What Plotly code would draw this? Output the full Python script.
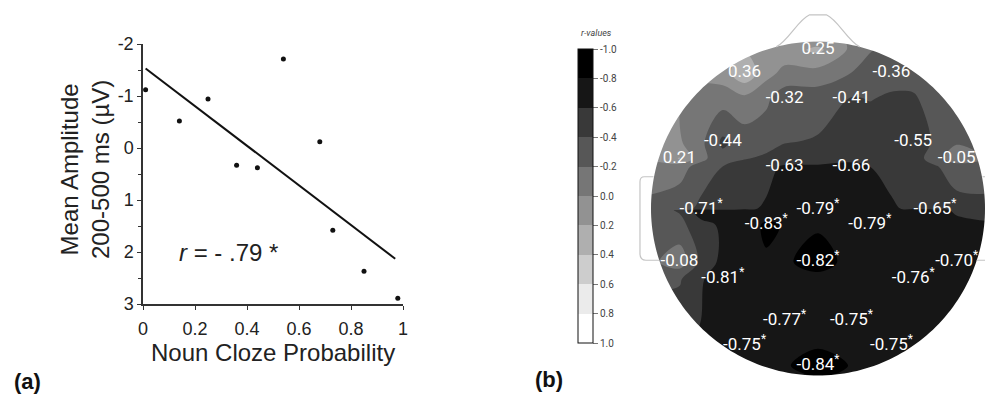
import numpy as np
import plotly.graph_objects as go

# ---------------- Panel (a): scatter + regression ----------------
cloze = [0.01, 0.14, 0.25, 0.36, 0.44, 0.54, 0.68, 0.73, 0.85, 0.98]
amplitude = [-1.12, -0.52, -0.94, 0.33, 0.38, -1.71, -0.12, 1.58, 2.37, 2.89]
fit_x = [0.01, 0.97]
fit_y = [-1.53, 2.13]
x_ticks = [0, 0.2, 0.4, 0.6, 0.8, 1]
x_ticklabels = ["0", "0.2", "0.4", "0.6", "0.8", "1"]
y_ticks = [-2, -1, 0, 1, 2, 3]
y_ticklabels = ["-2", "-1", "0", "1", "2", "3"]

# ---------------- Panel (b): scalp map of r-values ----------------
# electrode positions in head units (head radius = 1, nose up)
elec_x = [0.0, -0.44, 0.44, -0.20, 0.20, -0.57, 0.57, -0.83, 0.83, -0.20, 0.20,
          -0.70, 0.0, 0.70, -0.31, 0.31, -0.83, 0.0, 0.83, -0.57, 0.57,
          -0.20, 0.20, -0.44, 0.44, 0.0]
elec_y = [0.95, 0.81, 0.81, 0.66, 0.66, 0.40, 0.40, 0.30, 0.30, 0.25, 0.25,
          -0.01, -0.01, -0.01, -0.10, -0.10, -0.32, -0.32, -0.32, -0.42, -0.42,
          -0.67, -0.67, -0.82, -0.82, -0.94]
r_vals = [0.25, 0.36, -0.36, -0.32, -0.41, -0.44, -0.55, 0.21, -0.05, -0.63, -0.66,
          -0.71, -0.79, -0.65, -0.83, -0.79, -0.08, -0.82, -0.70, -0.81, -0.76,
          -0.77, -0.75, -0.75, -0.75, -0.84]
sig = [False, False, False, False, False, False, False, False, False, False, False,
       True, True, True, True, True, False, True, True, True, True,
       True, True, True, True, True]
# head rim: grid positions with no value (left for the library to fill in)
rim_x = [-1.0, 1.0, 0.0, 0.0]
rim_y = [0.0, 0.0, 1.0, -1.0]

cbar_ticks = [-1.0, -0.8, -0.6, -0.4, -0.2, 0.0, 0.2, 0.4, 0.6, 0.8, 1.0]
cbar_ticklabels = ["-1.0", "-0.8", "-0.6", "-0.4", "-0.2", "0.0", "0.2", "0.4", "0.6", "0.8", "1.0"]
# band colours from r=-1 (black) to r=+1 (white)
band_colors = ["#000000", "#222222", "#414141", "#5b5b5b", "#777777",
               "#919191", "#ababab", "#c6c6c6", "#e0e0e0", "#ffffff"]

W, H = 985, 395
FONT_A = "Liberation Sans, Arial, sans-serif"
FONT_B = "Roboto, Open Sans, sans-serif"

fig = go.Figure()

# ---- panel (a)
fig.add_trace(go.Scatter(x=fit_x, y=fit_y, mode="lines",
                         line=dict(color="#111111", width=2),
                         xaxis="x", yaxis="y", hoverinfo="skip", showlegend=False))
fig.add_trace(go.Scatter(x=cloze, y=amplitude, mode="markers",
                         marker=dict(color="#111111", size=5),
                         xaxis="x", yaxis="y", showlegend=False))

# ---- panel (b)
nb = len(band_colors)
ncont = nb + 1
cscale = []
for k in range(nb):
    c = band_colors[nb - 1 - k]
    cscale.append([(k + 1) / ncont, c])
cscale = [[0.0, cscale[0][1]]] + cscale + [[1.0, cscale[-1][1]]]

zprime = [-v for v in r_vals] + [None] * len(rim_x)
fig.add_trace(go.Contour(
    x=elec_x + rim_x, y=elec_y + rim_y, z=zprime,
    xaxis="x2", yaxis="y2",
    zmin=-1, zmax=1,
    autocontour=False, connectgaps=True,
    contours=dict(start=-1, end=1, size=0.2, coloring="fill", showlines=False),
    line=dict(width=0, smoothing=1.0),
    colorscale=cscale,
    hoverinfo="skip",
    colorbar=dict(
        x=578 / W, xanchor="left", xpad=0,
        y=1 - 49 / H, yanchor="top", ypad=0,
        len=294, lenmode="pixels",
        thickness=15, thicknessmode="pixels",
        outlinewidth=1, outlinecolor="#111111",
        ticks="outside", ticklen=5, tickwidth=1, tickcolor="#777777",
        tickvals=[-t for t in cbar_ticks], ticktext=cbar_ticklabels,
        tickfont=dict(size=10, color="#444444", family=FONT_B),
        title=dict(text=""),
    ),
))

labels = []
for v, s in zip(r_vals, sig):
    t = f"{v:.2f}"
    if s:
        t += "<sup>*</sup>"
    labels.append(t)
fig.add_trace(go.Scatter(x=elec_x, y=elec_y, mode="text", text=labels,
                         textposition="middle center",
                         textfont=dict(color="white", size=17, family=FONT_B),
                         xaxis="x2", yaxis="y2", hoverinfo="skip", showlegend=False))

# ---- head geometry (decoration)
theta = np.linspace(0, 2 * np.pi, 241)
circ = " ".join(("M" if i == 0 else "L") + f" {np.cos(t):.4f} {np.sin(t):.4f}" for i, t in enumerate(theta)) + " Z"
mask = "M -1.4 -1.4 L 1.3 -1.4 L 1.3 1.4 L -1.4 1.4 Z " + circ
nose = "M -0.25 0.968 C -0.18 1.0, -0.12 1.13, -0.05 1.16 L 0.05 1.16 C 0.12 1.13, 0.18 1.0, 0.25 0.968"
ear_l = "M -0.985 0.19 L -1.04 0.19 Q -1.066 0.19 -1.066 0.16 L -1.066 -0.27 Q -1.066 -0.31 -1.03 -0.31 L -0.95 -0.31"
ear_r = "M 0.985 0.19 L 1.04 0.19 Q 1.066 0.19 1.066 0.16 L 1.066 -0.27 Q 1.066 -0.31 1.03 -0.31 L 0.95 -0.31"
NOFILL = "rgba(0,0,0,0)"
OUTL = dict(color="#c4c4c4", width=1.2)

shapes = [
    dict(type="path", path=circ, xref="x2", yref="y2", fillcolor="#5a5a5a", line=dict(width=0), layer="below"),
    dict(type="path", path=mask, xref="x2", yref="y2", fillcolor="white", fillrule="evenodd",
         line=dict(width=0), layer="above"),
    dict(type="path", path=nose, xref="x2", yref="y2", fillcolor=NOFILL, line=OUTL, layer="above"),
    dict(type="path", path=ear_l, xref="x2", yref="y2", fillcolor=NOFILL, line=OUTL, layer="above"),
    dict(type="path", path=ear_r, xref="x2", yref="y2", fillcolor=NOFILL, line=OUTL, layer="above"),
]

# axes geometry in pixels
ax_l, ax_r, ax_t, ax_b = 143, 403, 44, 304
cx, cy, R = 818, 208.5, 167.0
x2_dom_l = 630

annotations = [
    dict(text="Mean Amplitude<br>200-500 ms (µV)", textangle=-90, x=85 / W, y=1 - 170 / H,
         xref="paper", yref="paper", showarrow=False, xanchor="center", yanchor="middle",
         font=dict(size=24, color="#222222", family=FONT_A)),
    dict(text="Noun Cloze Probability", x=(ax_l + ax_r) / 2 / W, y=1 - 352 / H,
         xref="paper", yref="paper", showarrow=False, xanchor="center", yanchor="middle",
         font=dict(size=24, color="#222222", family=FONT_A)),
    dict(text="<i>r</i> = - .79 *", x=0.33, y=2.0, xref="x", yref="y", showarrow=False,
         xanchor="center", yanchor="middle", font=dict(size=24, color="#222222", family=FONT_A)),
    dict(text="<b>(a)</b>", x=27.5 / W, y=1 - 381 / H, xref="paper", yref="paper", showarrow=False,
         xanchor="center", yanchor="middle", font=dict(size=22, color="#111111", family=FONT_A)),
    dict(text="<b>(b)</b>", x=549 / W, y=1 - 379 / H, xref="paper", yref="paper", showarrow=False,
         xanchor="center", yanchor="middle", font=dict(size=22, color="#111111", family=FONT_A)),
    dict(text="<i>r-values</i>", x=596 / W, y=1 - 33 / H, xref="paper", yref="paper", showarrow=False,
         xanchor="center", yanchor="middle", font=dict(size=9, color="#444444", family=FONT_B)),
]

fig.update_layout(
    width=W, height=H,
    margin=dict(l=0, r=0, t=0, b=0, autoexpand=False),
    paper_bgcolor="white", plot_bgcolor="white",
    showlegend=False,
    xaxis=dict(domain=[ax_l / W, ax_r / W], range=[0, 1], anchor="y",
               showline=True, linecolor="#333333", linewidth=1.5,
               showgrid=False, zeroline=False,
               ticks="outside", ticklen=4, tickcolor="#333333", tickwidth=1.2,
               tickvals=x_ticks, ticktext=x_ticklabels, ticklabelstandoff=4,
               tickfont=dict(size=18, color="#222222", family=FONT_A)),
    yaxis=dict(domain=[1 - ax_b / H, 1 - ax_t / H], range=[3, -2], anchor="x",
               showline=True, linecolor="#333333", linewidth=1.5,
               showgrid=False, zeroline=False,
               ticks="outside", ticklen=4, tickcolor="#333333", tickwidth=1.2,
               tickvals=y_ticks, ticktext=y_ticklabels,
               minor=dict(dtick=0.5, ticks="outside", ticklen=3, tickcolor="#333333", showgrid=False),
               tickfont=dict(size=18, color="#222222", family=FONT_A)),
    xaxis2=dict(domain=[x2_dom_l / W, 1], range=[(x2_dom_l - cx) / R, (W - cx) / R], anchor="y2",
                visible=False, showgrid=False, zeroline=False),
    yaxis2=dict(domain=[0, 1], range=[(cy - H) / R, cy / R], anchor="x2",
                visible=False, showgrid=False, zeroline=False),
    shapes=shapes,
    annotations=annotations,
)

fig.write_html("out.html")
